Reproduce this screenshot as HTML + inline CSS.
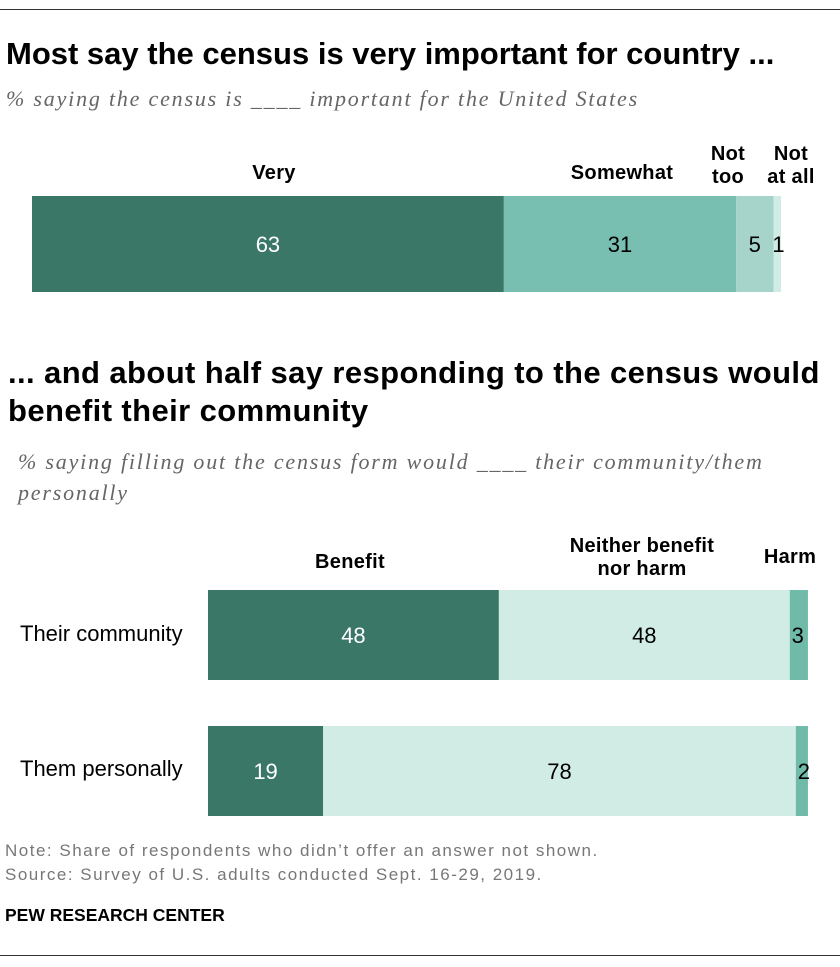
<!DOCTYPE html>
<html><head><meta charset="utf-8"><style>
body{margin:0;width:840px;height:967px;background:#fff;font-family:"Liberation Sans",sans-serif;position:relative;overflow:hidden}
.a{position:absolute;white-space:nowrap}
.t{font-weight:bold;color:#000}
.s{font-style:italic;font-size:22px;letter-spacing:1.8px;color:#666;font-family:"Liberation Serif",serif}
.h{font-weight:bold;font-size:20px;text-align:center;line-height:23px;letter-spacing:0.3px}
.r{font-size:22px}
.n{font-size:17px;letter-spacing:1.5px;color:#777}
</style></head><body>
<div class="a" style="left:0;top:9px;width:840px;height:1px;background:#333"></div>
<div class="a t" style="left:6px;top:36px;font-size:31px">Most say the census is very important for country ...</div>
<div class="a s" style="left:6px;top:86px">% saying the census is ____ important for the United States</div>
<div class="a t" style="left:8px;top:354px;line-height:38px;font-size:31px;letter-spacing:0.4px">... and about half say responding to the census would<br>benefit their community</div>
<div class="a s" style="left:18px;top:446px;line-height:31px">% saying filling out the census form would ____ their community/them<br>personally</div>
<div class="a r" style="left:20px;top:621px">Their community</div>
<div class="a r" style="left:20px;top:756px">Them personally</div>
<div class="a h" style="left:290px;top:551px;width:120px">Benefit</div>
<div class="a h" style="left:557px;top:535px;width:170px">Neither benefit<br>nor harm</div>
<div class="a h" style="left:758px;top:546px;width:64px">Harm</div>
<div class="a h" style="left:224px;top:162px;width:100px">Very</div>
<div class="a h" style="left:552px;top:162px;width:140px">Somewhat</div>
<div class="a h" style="left:698px;top:143px;width:60px">Not<br>too</div>
<div class="a h" style="left:759px;top:143px;width:64px">Not<br>at all</div>
<svg class="a" style="left:0;top:0" width="840" height="967" id="svg"></svg>
<div class="a n" style="left:5px;top:841px">Note: Share of respondents who didn’t offer an answer not shown.</div>
<div class="a n" style="left:5px;top:865px">Source: Survey of U.S. adults conducted Sept. 16-29, 2019.</div>
<div class="a" style="left:5px;top:905px;font-weight:bold;font-size:17.5px">PEW RESEARCH CENTER</div>
<div class="a" style="left:0;top:955px;width:840px;height:1px;background:#333"></div>
<script>
const topCats=["Very","Somewhat","Not too","Not at all"];
const topVals=[63,31,5,1];
const rowCats=["Their community","Them personally"];
const benefit=[48,19];
const neither=[48,78];
const harm=[3,2];
const svg=document.getElementById('svg');
const NS="http://www.w3.org/2000/svg";
function rect(x,y,w,h,f,nm){const r=document.createElementNS(NS,'rect');r.setAttribute('x',x);r.setAttribute('y',y);r.setAttribute('width',w);r.setAttribute('height',h);r.setAttribute('fill',f);


svg.appendChild(r);}
function txt(x,y,s,c,nm){const t=document.createElementNS(NS,'text');t.setAttribute('x',x);t.setAttribute('y',y);t.setAttribute('text-anchor','middle');t.setAttribute('font-size','22');t.setAttribute('font-family','Liberation Sans, sans-serif');t.setAttribute('fill',c);t.textContent=s;


svg.appendChild(t);}
const topCols=["#3b7767","#78bfb1","#a6d4ca","#d1ebe5"];
const tx=v=>32+v*7.49;
let c=0;
topVals.forEach((v,i)=>{rect(tx(c),196,tx(c+v)-tx(c),96,topCols[i],'bar-'+topCats[i].toLowerCase().replace(/ /g,'-'));
let lx=(tx(c)+tx(c+v))/2; if(i==3)lx=tx(c)+5;
txt(lx,252,String(v),i==0?'#fff':'#000','value-'+i);c+=v;});
const bx=v=>208+v*6.06;
const ys=[590,726];
rowCats.forEach((cat,j)=>{const y=ys[j];
const segs=[[benefit[j],"#3b7767","#fff"],[neither[j],"#d1ebe5","#000"],[harm[j],"#6fbaa8","#000"]];
let s=0;segs.forEach((g,k)=>{rect(bx(s),y,bx(s+g[0])-bx(s),90,g[1],'bar-'+j+'-'+k);
let lx=(bx(s)+bx(s+g[0]))/2;if(k==2)lx=bx(s)+8;
txt(lx,y+53,String(g[0]),g[2],'value-'+j+'-'+k);s+=g[0];});});
</script>
</body></html>
